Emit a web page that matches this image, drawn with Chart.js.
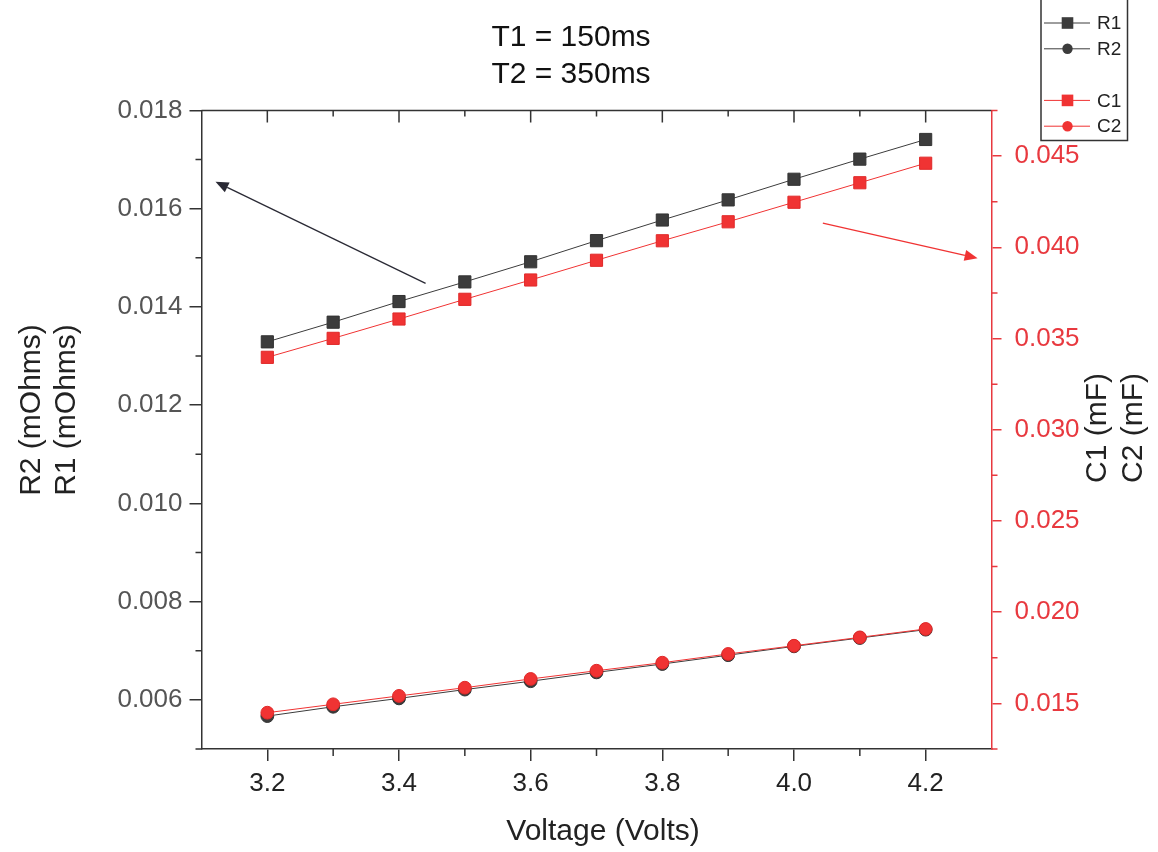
<!DOCTYPE html>
<html><head><meta charset="utf-8">
<script src="https://cdn.jsdelivr.net/npm/chart.js@4.4.0/dist/chart.umd.min.js"></script>
<style>html,body{margin:0;padding:0;background:#fff;}#wrap{width:1158px;height:852px;}</style>
</head><body><div id="wrap"><canvas id="c" width="1158" height="852"></canvas></div>
<script>
const voltage = [3.2, 3.3, 3.4, 3.5, 3.6, 3.7, 3.8, 3.9, 4.0, 4.1, 4.2];
const r1 = [0.01329, 0.01369, 0.01411, 0.01451, 0.01492, 0.01535, 0.01577, 0.01618, 0.01660, 0.01701, 0.01741];
const r2 = [0.00567, 0.00586, 0.00603, 0.00621, 0.00638, 0.00656, 0.00673, 0.00691, 0.00709, 0.00726, 0.00743];
const c1 = [0.03397, 0.03501, 0.03607, 0.03715, 0.03821, 0.03929, 0.04036, 0.04140, 0.04247, 0.04354, 0.04461];
const c2 = [0.01449, 0.01495, 0.01541, 0.01586, 0.01634, 0.01679, 0.01723, 0.01771, 0.01816, 0.01862, 0.01908];
const xMajorTicks = [3.2, 3.4, 3.6, 3.8, 4.0, 4.2];
const xMinorTicks = [3.3, 3.5, 3.7, 3.9, 4.1];
const leftMajorTicks = [0.006, 0.008, 0.010, 0.012, 0.014, 0.016, 0.018];
const leftMinorTicks = [0.005, 0.007, 0.009, 0.011, 0.013, 0.015, 0.017];
const rightMajorTicks = [0.015, 0.020, 0.025, 0.030, 0.035, 0.040, 0.045];
const rightMinorTicks = [0.0125, 0.0175, 0.0225, 0.0275, 0.0325, 0.0375, 0.0425, 0.0475];
const titleLines = ['T1 = 150ms', 'T2 = 350ms'];
const xTitle = 'Voltage (Volts)';
const leftTitleLines = ['R2 (mOhms)', 'R1 (mOhms)'];
const rightTitleLines = ['C1 (mF)', 'C2 (mF)'];
// arrows in data coordinates: [x, y] on the given axis
const arrowBlack = { from: [3.4404, 0.01448], to: [3.1213, 0.01655], axis: 'yL' };
const arrowRed = { from: [4.0438, 0.04133], to: [4.2789, 0.03940], axis: 'yR' };

const FONT = "'Liberation Sans', Arial, Helvetica, sans-serif";
const DARK = '#3c3c3c';
const RED = '#f03333';
const AXRED = '#e8393f';

function pts(ys) { return voltage.map((v, i) => ({ x: v, y: ys[i] })); }

const extras = {
  id: 'extras',
  afterDraw(chart) {
    const ctx = chart.ctx;
    const a = chart.chartArea;
    const x = chart.scales.x, yL = chart.scales.yL, yR = chart.scales.yR;
    ctx.save();
    // top frame line
    ctx.strokeStyle = '#333'; ctx.lineWidth = 1.5;
    ctx.beginPath(); ctx.moveTo(a.left, a.top); ctx.lineTo(a.right, a.top); ctx.stroke();
    // top ticks inward
    ctx.beginPath();
    xMajorTicks.forEach(v => { const px = x.getPixelForValue(v); ctx.moveTo(px, a.top); ctx.lineTo(px, a.top + 12); });
    xMinorTicks.forEach(v => { const px = x.getPixelForValue(v); ctx.moveTo(px, a.top); ctx.lineTo(px, a.top + 6); });
    // bottom minor ticks
    xMinorTicks.forEach(v => { const px = x.getPixelForValue(v); ctx.moveTo(px, a.bottom); ctx.lineTo(px, a.bottom + 7); });
    // left minor ticks
    leftMinorTicks.forEach(v => { const py = yL.getPixelForValue(v); ctx.moveTo(a.left - 6, py); ctx.lineTo(a.left, py); });
    ctx.stroke();
    // right minor ticks
    ctx.strokeStyle = AXRED;
    ctx.beginPath();
    rightMinorTicks.forEach(v => { const py = yR.getPixelForValue(v); ctx.moveTo(a.right, py); ctx.lineTo(a.right + 6, py); });
    ctx.stroke();

    // arrows
    function arrow(ar, color) {
      const ys = chart.scales[ar.axis];
      const x1 = x.getPixelForValue(ar.from[0]), y1 = ys.getPixelForValue(ar.from[1]);
      const x2 = x.getPixelForValue(ar.to[0]), y2 = ys.getPixelForValue(ar.to[1]);
      const ang = Math.atan2(y2 - y1, x2 - x1);
      const L = 13, W = 5.5;
      const bx = x2 - L * Math.cos(ang), by = y2 - L * Math.sin(ang);
      ctx.strokeStyle = color; ctx.fillStyle = color; ctx.lineWidth = 1.3;
      ctx.beginPath(); ctx.moveTo(x1, y1); ctx.lineTo(bx, by); ctx.stroke();
      ctx.beginPath();
      ctx.moveTo(x2, y2);
      ctx.lineTo(bx + W * Math.sin(ang), by - W * Math.cos(ang));
      ctx.lineTo(bx - W * Math.sin(ang), by + W * Math.cos(ang));
      ctx.closePath(); ctx.fill();
    }
    arrow(arrowBlack, '#2a2a35');
    arrow(arrowRed, RED);

    // titles
    ctx.fillStyle = '#111';
    ctx.textAlign = 'center'; ctx.textBaseline = 'alphabetic';
    ctx.font = '30px ' + FONT;
    ctx.fillText(titleLines[0], 571, 46);
    ctx.fillText(titleLines[1], 571, 83);
    ctx.fillStyle = '#222';
    ctx.fillText(xTitle, 603, 840);
    // rotated titles
    ctx.textBaseline = 'middle';
    function vtext(t, cx, cy) {
      ctx.save(); ctx.translate(cx, cy); ctx.rotate(-Math.PI / 2); ctx.fillText(t, 0, 0); ctx.restore();
    }
    vtext(leftTitleLines[0], 32, 410);
    vtext(leftTitleLines[1], 67, 410);
    vtext(rightTitleLines[0], 1098, 428);
    vtext(rightTitleLines[1], 1134, 428);

    // legend
    ctx.strokeStyle = '#333'; ctx.lineWidth = 1.5;
    ctx.strokeRect(1041, -3, 86.5, 143.5);
    const slots = [0, 1, 3, 4];
    chart.data.datasets.forEach((ds, i) => {
      const cy = 23 + slots[i] * 25.8;
      ctx.strokeStyle = ds.borderColor; ctx.lineWidth = 1;
      ctx.beginPath(); ctx.moveTo(1044, cy); ctx.lineTo(1090, cy); ctx.stroke();
      ctx.fillStyle = ds.backgroundColor;
      if (ds.pointStyle === 'rect') { ctx.fillRect(1067.5 - 5.8, cy - 5.8, 11.6, 11.6); }
      else { ctx.beginPath(); ctx.arc(1067.5, cy, 5.2, 0, Math.PI * 2); ctx.fill(); }
      ctx.fillStyle = '#222'; ctx.font = '19px ' + FONT; ctx.textAlign = 'left'; ctx.textBaseline = 'middle';
      ctx.fillText(ds.label, 1097, cy + 1);
    });
    ctx.restore();
  }
};

new Chart(document.getElementById('c'), {
  type: 'line',
  data: {
    datasets: [
      { label: 'R1', data: pts(r1), yAxisID: 'yL', borderColor: DARK, backgroundColor: DARK, pointBorderColor: '#333', pointStyle: 'rect', pointRadius: 8.6, borderWidth: 1, pointBorderWidth: 1, order: 3 },
      { label: 'R2', data: pts(r2), yAxisID: 'yL', borderColor: DARK, backgroundColor: DARK, pointBorderColor: '#333', pointStyle: 'circle', pointRadius: 6.4, borderWidth: 1, pointBorderWidth: 1, order: 2 },
      { label: 'C1', data: pts(c1), yAxisID: 'yR', borderColor: RED, backgroundColor: RED, pointBorderColor: '#e02828', pointStyle: 'rect', pointRadius: 8.6, borderWidth: 1, pointBorderWidth: 1, order: 1 },
      { label: 'C2', data: pts(c2), yAxisID: 'yR', borderColor: RED, backgroundColor: RED, pointBorderColor: '#e02828', pointStyle: 'circle', pointRadius: 6.4, borderWidth: 1, pointBorderWidth: 1, order: 0 }
    ]
  },
  options: {
    responsive: false,
    animation: false,
    layout: { padding: { left: 81.5, right: 66.5, top: 110.5, bottom: 43 } },
    plugins: { legend: { display: false }, tooltip: { enabled: false }, title: { display: false } },
    elements: { line: { tension: 0 } },
    scales: {
      x: {
        type: 'linear', position: 'bottom', min: 3.1, max: 4.3,
        afterBuildTicks: s => { s.ticks = xMajorTicks.map(v => ({ value: v })); },
        afterFit: s => { s.height = 60; },
        ticks: { callback: v => Number(v).toFixed(1), font: { size: 26, family: FONT }, color: '#222', padding: 7, maxRotation: 0, autoSkip: false },
        grid: { drawOnChartArea: false, tickLength: 12, color: '#333', lineWidth: 1.5 },
        border: { color: '#333', width: 1.5 }
      },
      yL: {
        type: 'linear', position: 'left', min: 0.005, max: 0.018,
        afterBuildTicks: s => { s.ticks = leftMajorTicks.map(v => ({ value: v })); },
        afterFit: s => { s.width = 120; },
        ticks: { callback: v => Number(v).toFixed(3), font: { size: 26, family: FONT }, color: '#555', padding: 7, autoSkip: false },
        grid: { drawOnChartArea: false, tickLength: 12, color: '#333', lineWidth: 1.5 },
        border: { color: '#333', width: 1.5 }
      },
      yR: {
        type: 'linear', position: 'right', min: 0.0125, max: 0.0475,
        afterBuildTicks: s => { s.ticks = rightMajorTicks.map(v => ({ value: v })); },
        afterFit: s => { s.width = 100; },
        ticks: { callback: v => Number(v).toFixed(3), font: { size: 26, family: FONT }, color: AXRED, padding: 13, autoSkip: false },
        grid: { drawOnChartArea: false, tickLength: 10, color: AXRED, lineWidth: 1.5 },
        border: { color: AXRED, width: 1.5 }
      }
    }
  },
  plugins: [extras]
});
</script>
</body></html>
